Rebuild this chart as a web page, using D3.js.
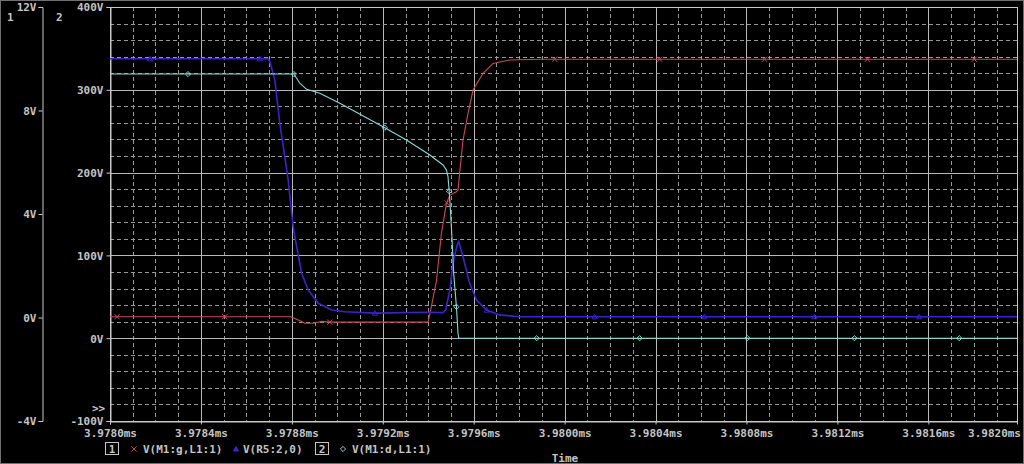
<!DOCTYPE html>
<html><head><meta charset="utf-8">
<script src="https://cdn.jsdelivr.net/npm/d3@7"></script>
<style>
html,body{margin:0;padding:0;background:#000;}
svg{display:block;}
text{font-family:"DejaVu Sans Mono",monospace;font-weight:bold;font-size:11px;fill:#c4c4c4;}
</style></head>
<body>
<svg id="c" width="1024" height="464"></svg>
<script>
// ---------- data (time in ms, voltage in V) ----------
const xDomain = [3.9780, 3.98199];
const xTicks = [3.9780, 3.9784, 3.9788, 3.9792, 3.9796, 3.9800, 3.9804, 3.9808, 3.9812, 3.9816];
const xEndLabel = "3.9820ms";
const axis1Ticks = [12, 8, 4, 0, -4];
const axis2Ticks = [400, 300, 200, 100, 0, -100];
const legendNames = ["V(M1:g,L1:1)", "V(R5:2,0)", "V(M1:d,L1:1)"];

// V(M1:g,L1:1) - axis 1
const vGate = [
  [3.978000, 0.03], [3.978796, 0.03], [3.978828, -0.10], [3.978857, -0.22], [3.978894, -0.22],
  [3.978931, -0.15], [3.978967, -0.18], [3.979399, -0.18], [3.979411, 0.30], [3.979436, 1.40],
  [3.979458, 3.25], [3.979480, 4.41], [3.979495, 4.73], [3.979524, 4.86], [3.979531, 4.93],
  [3.979538, 5.57], [3.979553, 6.86], [3.979575, 7.89], [3.979597, 8.79], [3.979641, 9.44],
  [3.979685, 9.82], [3.979758, 9.95], [3.979890, 9.98], [3.981990, 9.98]
];
// V(R5:2,0) - axis 1
const vR5 = [
  [3.978000, 10.0], [3.978695, 10.0], [3.978703, 9.90], [3.978725, 9.18], [3.978747, 7.50],
  [3.978769, 6.20], [3.978784, 5.30], [3.978796, 4.28], [3.978806, 3.50], [3.978821, 2.74],
  [3.978843, 1.71], [3.978872, 1.06], [3.978916, 0.55], [3.978975, 0.29], [3.979033, 0.22],
  [3.979165, 0.17], [3.979392, 0.20], [3.979465, 0.19], [3.979477, 0.30], [3.979495, 1.06],
  [3.979509, 2.10], [3.979527, 2.80], [3.979534, 2.93], [3.979553, 2.35], [3.979582, 1.32],
  [3.979612, 0.68], [3.979656, 0.29], [3.979714, 0.10], [3.979802, 0.03], [3.981990, 0.03]
];
// V(M1:d,L1:1) - axis 2
const vDrain = [
  [3.978000, 319], [3.978809, 319], [3.978835, 308], [3.978865, 300.6], [3.978923, 295.8],
  [3.979011, 283.7], [3.979201, 255.4], [3.979304, 239.4], [3.979407, 221.3], [3.979465, 209.2],
  [3.979480, 203.1], [3.979487, 195], [3.979495, 167], [3.979505, 118], [3.979512, 78],
  [3.979524, 38], [3.979531, 6], [3.979534, 0], [3.981990, 0]
];
// marker times
const gateMarks = [3.978031, 3.978505, 3.978967, 3.979481, 3.979956, 3.980418, 3.980879, 3.981332, 3.981802];
const r5Marks = [3.978176, 3.978659, 3.979165, 3.979657, 3.980132, 3.980615, 3.981099, 3.981560];
const drainMarks = [3.978343, 3.978809, 3.979209, 3.979492, 3.979524, 3.979877, 3.980330, 3.980804, 3.981275, 3.981736];

// ---------- layout ----------
const L = 110, R = 1017, T = 7, B = 421;
const svg = d3.select("#c");
const x = d3.scaleLinear().domain(xDomain).range([L, R]);
const y1 = d3.scaleLinear().domain([-4, 12]).range([B, T]);
const y2 = d3.scaleLinear().domain([-100, 400]).range([B, T]);

svg.append("rect").attr("x", 0.5).attr("y", 0.5).attr("width", 1023).attr("height", 463)
  .attr("fill", "#000").attr("stroke", "#707070");

// grid
const g = svg.append("g");
const minorX = d3.range(0, 40).map(i => 3.9780 + i * 0.0001).filter(t => t > xDomain[0] + 1e-9 && t < xDomain[1]);
const minorY = d3.range(-100, 401, 20);
g.selectAll(".gx").data(minorX).join("line")
  .attr("x1", d => Math.round(x(d)) + 0.5).attr("x2", d => Math.round(x(d)) + 0.5)
  .attr("y1", T).attr("y2", B)
  .attr("stroke", d => (Math.round((d - 3.978) / 0.0001) % 4 === 0) ? "#b8b8b8" : "#9a9a9a")
  .attr("stroke-dasharray", d => (Math.round((d - 3.978) / 0.0001) % 4 === 0) ? null : "4,3");
g.selectAll(".gy").data(minorY).join("line")
  .attr("x1", L).attr("x2", R)
  .attr("y1", d => Math.round(y2(d)) + 0.5).attr("y2", d => Math.round(y2(d)) + 0.5)
  .attr("stroke", d => (d % 100 === 0) ? "#b8b8b8" : "#9a9a9a")
  .attr("stroke-dasharray", d => (d % 100 === 0) ? null : "4,3");

// plot frame
svg.append("rect").attr("x", L + 0.5).attr("y", T + 0.5).attr("width", R - L).attr("height", B - T)
  .attr("fill", "none").attr("stroke", "#c8c8c8");

// axis 1 (left)
const a1 = svg.append("g").attr("transform", "translate(42.5,0)")
  .call(d3.axisLeft(y1).tickValues(axis1Ticks).tickFormat(d => d + "V").tickSize(4).tickPadding(2));
// axis 2
const a2 = svg.append("g").attr("transform", `translate(${L + 0.5},0)`)
  .call(d3.axisLeft(y2).tickValues(axis2Ticks).tickFormat(d => d + "V").tickSize(4).tickPadding(3));
// x axis
const ax = svg.append("g").attr("transform", `translate(0,${B + 0.5})`)
  .call(d3.axisBottom(x).tickValues(xTicks).tickFormat(d => d3.format(".4f")(d) + "ms").tickSize(3).tickPadding(5));
[a1, a2, ax].forEach(a => {
  a.selectAll("path,line").attr("stroke", "#c8c8c8");
  a.select(".domain").attr("stroke", "#c8c8c8");
  a.selectAll("text").attr("fill", "#c4c4c4").style("font-family", '"DejaVu Sans Mono",monospace')
    .style("font-size", "11px").style("font-weight", "bold");
});
a1.selectAll(".tick text").attr("dy", "0.35em");
a2.selectAll(".tick text").attr("dy", "0.35em");
ax.append("text").attr("x", 1021).attr("y", 8).attr("dy", "0.71em").attr("text-anchor", "end")
  .attr("fill", "#c4c4c4").style("font-size", "11px").style("font-weight", "bold")
  .style("font-family", '"DejaVu Sans Mono",monospace').text(xEndLabel);

svg.append("text").attr("x", 7).attr("y", 21).text("1");
svg.append("text").attr("x", 56).attr("y", 21).text("2");
svg.append("text").attr("x", 92).attr("y", 412).text(">>");

// series
const clip = svg.append("clipPath").attr("id", "pc").append("rect")
  .attr("x", L).attr("y", T).attr("width", R - L).attr("height", B - T);
const plot = svg.append("g").attr("clip-path", "url(#pc)");
const series = [
  { data: vGate, y: y1, color: "#c84a5a", w: 1.1, marks: gateMarks, shape: "x" },
  { data: vR5, y: y1, color: "#3a24c8", w: 1.6, marks: r5Marks, shape: "tri" },
  { data: vDrain, y: y2, color: "#8ad8d2", w: 1.1, marks: drainMarks, shape: "dia" }
];
function valAt(data, t) {
  const i = d3.bisector(d => d[0]).right(data, t);
  if (i <= 0) return data[0][1];
  if (i >= data.length) return data[data.length - 1][1];
  const a = data[i - 1], b = data[i];
  return a[1] + (b[1] - a[1]) * (t - a[0]) / (b[0] - a[0]);
}
function markerPath(shape, cx, cy) {
  const s = 2.6;
  if (shape === "x") return `M${cx - s},${cy - s}L${cx + s},${cy + s}M${cx - s},${cy + s}L${cx + s},${cy - s}`;
  if (shape === "tri") return `M${cx - s},${cy + s * 0.8}L${cx},${cy - s}L${cx + s},${cy + s * 0.8}Z`;
  return `M${cx},${cy - s}L${cx + s},${cy}L${cx},${cy + s}L${cx - s},${cy}Z`;
}
series.forEach(s => {
  plot.append("path").datum(s.data)
    .attr("d", d3.line().x(d => x(d[0])).y(d => s.y(d[1])))
    .attr("fill", "none").attr("stroke", s.color).attr("stroke-width", s.w);
  plot.selectAll(null).data(s.marks).join("path")
    .attr("d", t => markerPath(s.shape, x(t), s.y(valAt(s.data, t))))
    .attr("fill", "none").attr("stroke", s.color).attr("stroke-width", 1);
});

// legend
const ly = 449;
function box(xx, label) {
  svg.append("rect").attr("x", xx + 0.5).attr("y", ly - 6.5).attr("width", 13).attr("height", 12)
    .attr("fill", "none").attr("stroke", "#c4c4c4");
  svg.append("text").attr("x", xx + 7).attr("y", ly + 4).attr("text-anchor", "middle").text(label);
}
box(105, "1");
svg.append("path").attr("d", markerPath("x", 134, ly)).attr("stroke", series[0].color).attr("fill", "none");
svg.append("text").attr("x", 143).attr("y", ly + 4).text(legendNames[0]);
svg.append("path").attr("d", markerPath("tri", 236, ly)).attr("stroke", series[1].color).attr("fill", series[1].color);
svg.append("text").attr("x", 243).attr("y", ly + 4).text(legendNames[1]);
box(315, "2");
svg.append("path").attr("d", markerPath("dia", 343, ly)).attr("stroke", series[2].color).attr("fill", "none");
svg.append("text").attr("x", 352).attr("y", ly + 4).text(legendNames[2]);
svg.append("text").attr("x", 565).attr("y", 462).attr("text-anchor", "middle").text("Time");
</script>
</body></html>
